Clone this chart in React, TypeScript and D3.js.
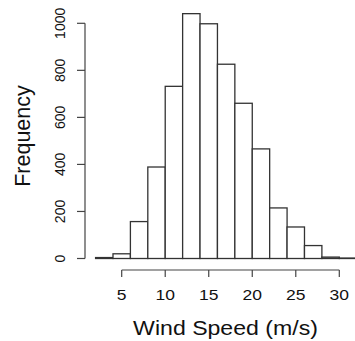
import React from "react";
import * as d3 from "d3";

const binStarts = [2, 4, 6, 8, 10, 12, 14, 16, 18, 20, 22, 24, 26, 28, 30];
const binWidth = 2;
const counts = [4, 20, 157, 389, 732, 1041, 998, 826, 660, 466, 215, 134, 55, 6, 2];
const xTicks = [5, 10, 15, 20, 25, 30];
const yTicks = [0, 200, 400, 600, 800, 1000];

const W = 355;
const H = 341;
const FONT = "'Liberation Sans', Arial, Helvetica, sans-serif";

export default function App() {
  const x = d3.scaleLinear().domain([5, 30]).range([121.7, 339.3]);
  const y = d3.scaleLinear().domain([0, 1000]).range([258.5, 23.3]);
  const axisY = 270;
  const axisX = 85;

  return (
    <svg
      width={W}
      height={H}
      style={{ position: "absolute", left: 0, top: 0, background: "#fff" }}
    >
      <rect x={0} y={0} width={W} height={H} fill="#fff" />
      {/* bars */}
      <g>
        {binStarts.map((b, i) => (
          <rect
            key={i}
            x={x(b)}
            y={y(counts[i])}
            width={x(b + binWidth) - x(b)}
            height={y(0) - y(counts[i])}
            fill="#fff"
            stroke="#333"
            strokeWidth={1.3}
          />
        ))}
      </g>
      {/* x axis */}
      <g stroke="#444" strokeWidth={1.2}>
        <line x1={x(xTicks[0])} x2={x(xTicks[xTicks.length - 1])} y1={axisY} y2={axisY} />
        {xTicks.map((t) => (
          <line key={t} x1={x(t)} x2={x(t)} y1={axisY} y2={axisY + 7} />
        ))}
      </g>
      <g fontFamily={FONT} fontSize={14} fill="#111" textAnchor="middle">
        {xTicks.map((t) => (
          <text key={t} transform={`translate(${x(t)},300) scale(1.25,1)`}>
            {t}
          </text>
        ))}
      </g>
      {/* y axis */}
      <g stroke="#444" strokeWidth={1.2}>
        <line x1={axisX} x2={axisX} y1={y(yTicks[0])} y2={y(yTicks[yTicks.length - 1])} />
        {yTicks.map((t) => (
          <line key={t} x1={axisX - 8} x2={axisX} y1={y(t)} y2={y(t)} />
        ))}
      </g>
      <g fontFamily={FONT} fontSize={14} fill="#111" textAnchor="middle">
        {yTicks.map((t) => (
          <text key={t} transform={`translate(65,${y(t)}) rotate(-90)`}>
            {t}
          </text>
        ))}
      </g>
      {/* titles */}
      <text
        fontFamily={FONT}
        fontSize={21}
        fill="#111"
        textAnchor="middle"
        transform={`translate(225.5,335) scale(1.1,1)`}
      >
        Wind Speed (m/s)
      </text>
      <text
        fontFamily={FONT}
        fontSize={21.5}
        fill="#111"
        textAnchor="middle"
        transform={`translate(30,136) rotate(-90)`}
      >
        Frequency
      </text>
    </svg>
  );
}
